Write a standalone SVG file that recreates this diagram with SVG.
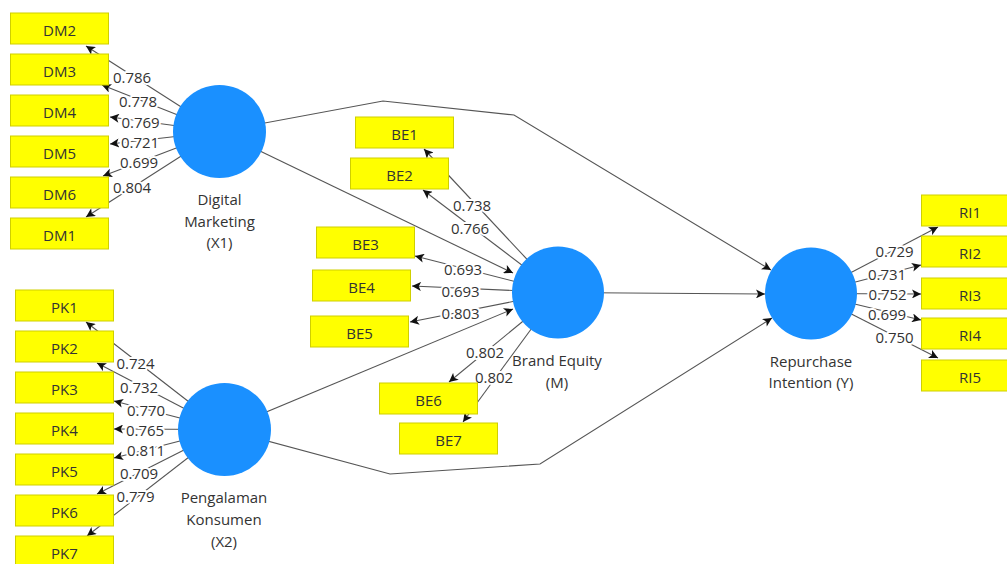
<svg xmlns="http://www.w3.org/2000/svg" width="1007" height="564" viewBox="0 0 1007 564">
<defs>
<style>
.ln{fill:none;stroke:#555;stroke-width:1.1}
.arr{marker-end:url(#ah)}
.box{fill:#ffff00;stroke:#cfcf00;stroke-width:1}
.bt{font-family:"Open Sans","Noto Sans",sans-serif;font-size:15px;fill:#333;text-anchor:middle}
.lv{fill:#1a90ff}
.lt{font-family:"Open Sans","Noto Sans",sans-serif;font-size:15px;fill:#333;text-anchor:middle}
.w{font-family:"Open Sans","Noto Sans",sans-serif;font-size:15px;fill:#333;text-anchor:middle;stroke:#fff;stroke-width:4;paint-order:stroke;stroke-linejoin:round}
</style>
<marker id="ah" viewBox="0 0 10 10" refX="10" refY="5" markerWidth="10" markerHeight="9" markerUnits="userSpaceOnUse" orient="auto">
<path d="M0,0 L10,5 L0,10 L2.5,5 z" fill="#111"/>
</marker>
</defs>
<rect width="1007" height="564" fill="#fff"/>
<g id="connectors">
<polyline class="ln arr" points="219.5,131.5 383,101 514,115 771,270"/>
<line class="ln arr" x1="219.5" y1="131.5" x2="513" y2="273"/>
<line class="ln arr" x1="224.5" y1="429.5" x2="513" y2="309"/>
<polyline class="ln arr" points="224.5,429.5 390,474 540,464 772,318"/>
<line class="ln arr" x1="558" y1="292.5" x2="765" y2="294"/>
<line class="ln arr" x1="219.5" y1="131.5" x2="86" y2="46"/>
<line class="ln arr" x1="219.5" y1="131.5" x2="102" y2="85"/>
<line class="ln arr" x1="219.5" y1="131.5" x2="110" y2="117"/>
<line class="ln arr" x1="219.5" y1="131.5" x2="110" y2="144"/>
<line class="ln arr" x1="219.5" y1="131.5" x2="103" y2="176"/>
<line class="ln arr" x1="219.5" y1="131.5" x2="86" y2="217"/>
<line class="ln arr" x1="224.5" y1="429.5" x2="86" y2="322"/>
<line class="ln arr" x1="224.5" y1="429.5" x2="97" y2="363"/>
<line class="ln arr" x1="224.5" y1="429.5" x2="114" y2="401"/>
<line class="ln arr" x1="224.5" y1="429.5" x2="114" y2="429"/>
<line class="ln arr" x1="224.5" y1="429.5" x2="114" y2="458"/>
<line class="ln arr" x1="224.5" y1="429.5" x2="97" y2="494"/>
<line class="ln arr" x1="224.5" y1="429.5" x2="87" y2="536"/>
<line class="ln arr" x1="558" y1="292.5" x2="424" y2="149"/>
<line class="ln arr" x1="558" y1="292.5" x2="423" y2="190"/>
<line class="ln arr" x1="558" y1="292.5" x2="415" y2="256"/>
<line class="ln arr" x1="558" y1="292.5" x2="412" y2="286"/>
<line class="ln arr" x1="558" y1="292.5" x2="410" y2="322"/>
<line class="ln arr" x1="558" y1="292.5" x2="449" y2="382"/>
<line class="ln arr" x1="558" y1="292.5" x2="463" y2="422"/>
<line class="ln arr" x1="811" y1="293.5" x2="938" y2="227"/>
<line class="ln arr" x1="811" y1="293.5" x2="921" y2="265"/>
<line class="ln arr" x1="811" y1="293.5" x2="921" y2="294"/>
<line class="ln arr" x1="811" y1="293.5" x2="921" y2="320"/>
<line class="ln arr" x1="811" y1="293.5" x2="938" y2="358"/>
<g id="loading-labels">
<text class="w" x="132" y="83">0.786</text>
<text class="w" x="138" y="107">0.778</text>
<text class="w" x="140.5" y="128">0.769</text>
<text class="w" x="140" y="148">0.721</text>
<text class="w" x="139" y="168">0.699</text>
<text class="w" x="132" y="193">0.804</text>
<text class="w" x="135.5" y="368.5">0.724</text>
<text class="w" x="139" y="393">0.732</text>
<text class="w" x="146" y="416">0.770</text>
<text class="w" x="145" y="435.5">0.765</text>
<text class="w" x="146" y="455.5">0.811</text>
<text class="w" x="139" y="478.5">0.709</text>
<text class="w" x="135.5" y="502">0.779</text>
<text class="w" x="472" y="211">0.738</text>
<text class="w" x="470" y="234">0.766</text>
<text class="w" x="463" y="275">0.693</text>
<text class="w" x="460.5" y="296.5">0.693</text>
<text class="w" x="460.5" y="318.5">0.803</text>
<text class="w" x="485" y="358">0.802</text>
<text class="w" x="494" y="382.5">0.802</text>
<text class="w" x="894.5" y="256.5">0.729</text>
<text class="w" x="887" y="280">0.731</text>
<text class="w" x="887.5" y="300">0.752</text>
<text class="w" x="887" y="319.5">0.699</text>
<text class="w" x="894.5" y="343">0.750</text>
</g>
</g>
<g id="DigitalMarketing">
<circle class="lv" cx="219.5" cy="131.5" r="46.5"/>
<text class="lt" x="219.5" y="205">Digital</text>
<text class="lt" x="219.5" y="227">Marketing</text>
<text class="lt" x="219.5" y="248">(X1)</text>
</g>
<g id="PengalamanKonsumen">
<circle class="lv" cx="224.5" cy="429.5" r="46.5"/>
<text class="lt" x="224" y="502.5">Pengalaman</text>
<text class="lt" x="224" y="524.5">Konsumen</text>
<text class="lt" x="224" y="547">(X2)</text>
</g>
<g id="BrandEquity">
<circle class="lv" cx="558" cy="292.5" r="46"/>
<text class="lt" x="557" y="366">Brand Equity</text>
<text class="lt" x="557" y="388">(M)</text>
</g>
<g id="RepurchaseIntention">
<circle class="lv" cx="811" cy="293.5" r="46"/>
<text class="lt" x="811" y="367">Repurchase</text>
<text class="lt" x="811" y="388">Intention (Y)</text>
</g>
<g id="DM2"><rect class="box" x="10.5" y="13" width="98" height="31"/><text class="bt" x="59.5" y="36">DM2</text></g>
<g id="DM3"><rect class="box" x="10.5" y="54" width="98" height="31"/><text class="bt" x="59.5" y="77">DM3</text></g>
<g id="DM4"><rect class="box" x="10.5" y="95" width="98" height="31"/><text class="bt" x="59.5" y="118">DM4</text></g>
<g id="DM5"><rect class="box" x="10.5" y="136" width="98" height="31"/><text class="bt" x="59.5" y="159">DM5</text></g>
<g id="DM6"><rect class="box" x="10.5" y="177" width="98" height="31"/><text class="bt" x="59.5" y="200">DM6</text></g>
<g id="DM1"><rect class="box" x="10.5" y="218" width="98" height="31"/><text class="bt" x="59.5" y="241">DM1</text></g>
<g id="PK1"><rect class="box" x="15.5" y="290" width="98" height="31"/><text class="bt" x="64.5" y="313">PK1</text></g>
<g id="PK2"><rect class="box" x="15.5" y="331" width="98" height="31"/><text class="bt" x="64.5" y="354">PK2</text></g>
<g id="PK3"><rect class="box" x="15.5" y="372" width="98" height="31"/><text class="bt" x="64.5" y="395">PK3</text></g>
<g id="PK4"><rect class="box" x="15.5" y="413" width="98" height="31"/><text class="bt" x="64.5" y="436">PK4</text></g>
<g id="PK5"><rect class="box" x="15.5" y="454" width="98" height="31"/><text class="bt" x="64.5" y="477">PK5</text></g>
<g id="PK6"><rect class="box" x="15.5" y="495" width="98" height="31"/><text class="bt" x="64.5" y="518">PK6</text></g>
<g id="PK7"><rect class="box" x="15.5" y="536" width="98" height="31"/><text class="bt" x="64.5" y="559">PK7</text></g>
<g id="BE1"><rect class="box" x="355.5" y="117" width="98" height="31"/><text class="bt" x="404.5" y="140">BE1</text></g>
<g id="BE2"><rect class="box" x="350.5" y="158" width="98" height="31"/><text class="bt" x="399.5" y="181">BE2</text></g>
<g id="BE3"><rect class="box" x="316.5" y="227" width="98" height="31"/><text class="bt" x="365.5" y="250">BE3</text></g>
<g id="BE4"><rect class="box" x="312.5" y="270" width="98" height="31"/><text class="bt" x="361.5" y="293">BE4</text></g>
<g id="BE5"><rect class="box" x="310.5" y="316" width="98" height="31"/><text class="bt" x="359.5" y="339">BE5</text></g>
<g id="BE6"><rect class="box" x="379.5" y="383" width="98" height="31"/><text class="bt" x="428.5" y="406">BE6</text></g>
<g id="BE7"><rect class="box" x="399.5" y="423" width="98" height="31"/><text class="bt" x="448.5" y="446">BE7</text></g>
<g id="RI1"><rect class="box" x="921.5" y="195" width="98" height="31"/><text class="bt" x="970" y="218">RI1</text></g>
<g id="RI2"><rect class="box" x="921.5" y="236" width="98" height="31"/><text class="bt" x="970" y="259">RI2</text></g>
<g id="RI3"><rect class="box" x="921.5" y="278" width="98" height="31"/><text class="bt" x="970" y="301">RI3</text></g>
<g id="RI4"><rect class="box" x="921.5" y="318" width="98" height="31"/><text class="bt" x="970" y="341">RI4</text></g>
<g id="RI5"><rect class="box" x="921.5" y="360" width="98" height="31"/><text class="bt" x="970" y="383">RI5</text></g>
</svg>
